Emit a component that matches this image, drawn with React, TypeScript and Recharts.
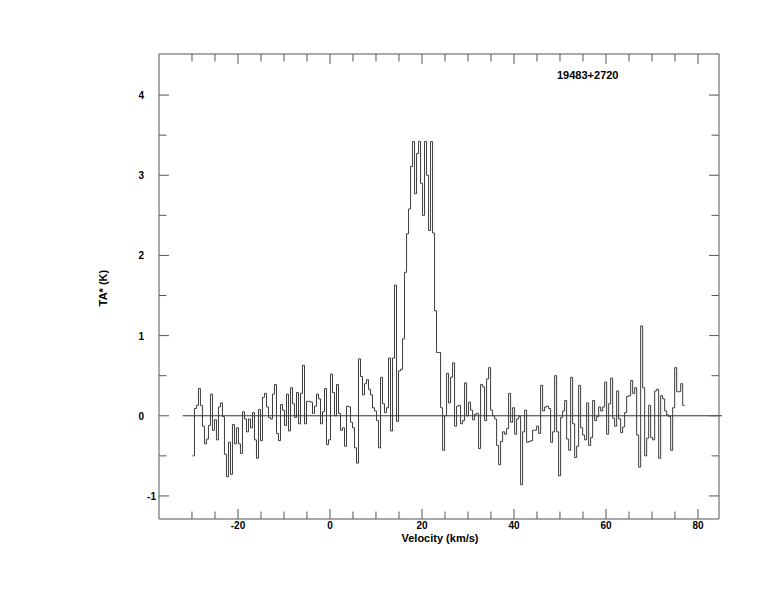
import { LineChart, Line, XAxis, YAxis, ReferenceLine } from "recharts";

// spectrum channels: first channel at V_START, constant channel width (km/s)
const V_START = -29.9;
const CHANNEL_KMS = 0.435;
const SOURCE = "19483+2720";

// antenna temperature TA* (K) per channel
const TA = [
  -0.5, 0.09, 0.13, 0.34, 0.13, -0.13, -0.35, -0.29, -0.12, 0.27,
  -0.18, -0.05, -0.3, 0.11, 0.16, -0.01, -0.48, -0.76, -0.33, -0.73,
  -0.11, -0.35, -0.15, -0.35, -0.47, 0.05, -0.04, -0.2, -0.04, -0.15,
  0.04, -0.3, -0.53, 0.08, -0.31, 0.23, 0.28, 0.11, -0.02, -0.04,
  0.27, 0.39, -0.22, -0.31, 0.14, 0.07, -0.12, 0.27, -0.19, 0.35,
  0.15, -0.02, 0.29, -0.1, 0.28, 0.63, -0.1, 0.18, 0.18, 0.17,
  0.03, 0.12, 0.27, 0.21, -0.1, 0.05, 0.34, -0.36, -0.3, 0.52,
  0.29, 0.0, 0.39, 0.03, -0.18, -0.15, -0.38, 0.12, 0.11, -0.08,
  -0.15, -0.4, -0.59, 0.71, 0.49, 0.26, 0.4, 0.45, 0.33, 0.26,
  0.1, 0.06, -0.06, -0.4, 0.48, 0.15, 0.04, 0.1, 0.72, -0.19,
  0.72, 1.63, -0.07, 0.56, 0.58, 0.96, 1.79, 2.27, 2.58, 3.11,
  3.42, 2.77, 3.27, 3.42, 2.9, 2.5, 3.42, 3.0, 2.31, 3.42,
  2.28, 1.31, 0.79, 0.79, 0.1, -0.43, 0.0, 0.53, 0.16, 0.48,
  0.66, -0.13, 0.12, 0.13, -0.1, -0.06, 0.41, 0.0, 0.17, 0.07,
  -0.05, 0.02, 0.03, -0.41, 0.39, 0.36, -0.06, 0.46, 0.6, 0.07,
  0.0, -0.04, -0.37, -0.61, -0.32, -0.2, -0.23, -0.16, 0.28, -0.08,
  0.1, -0.23, -0.04, -0.01, -0.86, -0.2, 0.07, -0.33, -0.32, -0.31,
  -0.18, -0.18, -0.13, -0.22, 0.38, 0.06, 0.11, 0.12, 0.09, -0.33,
  -0.2, 0.5, -0.2, -0.75, -0.02, 0.06, 0.19, -0.29, -0.43, 0.48,
  -0.1, -0.52, -0.38, 0.38, -0.15, -0.24, -0.3, 0.16, -0.37, -0.27,
  0.19, -0.06, -0.01, 0.11, 0.06, 0.11, 0.42, -0.23, 0.15, 0.47,
  -0.03, -0.13, 0.31, -0.04, -0.21, -0.14, 0.04, 0.24, 0.25, 0.44,
  0.28, 0.35, -0.24, -0.64, 1.12, 0.35, -0.5, -0.28, 0.13, -0.27,
  -0.3, 0.31, 0.33, -0.53, 0.25, 0.21, 0.06, 0.01, -0.01, -0.43,
  0.1, 0.6, 0.3, 0.3, 0.4, 0.13,
];

const X_TICKS = [-30, -25, -20, -15, -10, -5, 0, 5, 10, 15, 20, 25, 30, 35, 40, 45, 50, 55, 60, 65, 70, 75, 80];
const X_LABELS = [-20, 0, 20, 40, 60, 80];
const Y_TICKS = [-1, -0.5, 0, 0.5, 1, 1.5, 2, 2.5, 3, 3.5, 4];
const Y_LABELS = [-1, 0, 1, 2, 3, 4];

const X_DOMAIN = [-37.17, 84.57];
const Y_DOMAIN = [-1.2875, 4.5125];

const AXIS = "#555";
const INK = "#3c3c3c";
const FONT = "'Liberation Sans', Arial, sans-serif";

// stepAfter needs one extra point to close the last channel
const data = [
  ...TA.map((t, i) => ({ v: V_START + i * CHANNEL_KMS, t })),
  { v: V_START + TA.length * CHANNEL_KMS, t: TA[TA.length - 1] },
];

function XTick(props: any) {
  const { x, y, payload, side } = props;
  const v = payload.value;
  const major = X_LABELS.includes(v);
  const len = major ? 10 : 7.5;
  const dir = side === "bottom" ? -1 : 1;
  return (
    <g>
      <line x1={x} y1={y} x2={x} y2={y + dir * len} stroke={AXIS} />
      {side === "bottom" && major && (
        <text x={x} y={y + 10} textAnchor="middle" fontSize={10} fontWeight="bold" fontFamily={FONT} fill="#000">
          {v}
        </text>
      )}
    </g>
  );
}

function YTick(props: any) {
  const { x, y, payload, side } = props;
  const v = payload.value;
  const major = Y_LABELS.includes(v);
  const len = major ? 10 : 7.5;
  const dir = side === "left" ? 1 : -1;
  return (
    <g>
      <line x1={x} y1={y} x2={x + dir * len} y2={y} stroke={AXIS} />
      {side === "left" && major && (
        <text x={v < 0 ? x - 3 : x - 15} y={y + 4} textAnchor="end" fontSize={10} fontWeight="bold" fontFamily={FONT} fill="#000">
          {v}
        </text>
      )}
    </g>
  );
}

export default function App() {
  return (
    <div style={{ position: "absolute", left: 0, top: 0, width: 774, height: 612, background: "#fff", fontFamily: FONT }}>
      <LineChart width={774} height={612} data={data} margin={{ top: 53, right: 54, bottom: 63, left: 99 }}>
        <XAxis
          dataKey="v"
          type="number"
          domain={X_DOMAIN}
          allowDataOverflow
          ticks={X_TICKS}
          interval={0}
          height={30}
          tickSize={0}
          tickMargin={0}
          tickLine={false}
          axisLine={{ stroke: AXIS }}
          tick={(p: any) => <XTick {...p} side="bottom" />}
        />
        <XAxis
          xAxisId="top"
          orientation="top"
          dataKey="v"
          type="number"
          domain={X_DOMAIN}
          allowDataOverflow
          ticks={X_TICKS}
          interval={0}
          height={1}
          tickSize={0}
          tickMargin={0}
          tickLine={false}
          axisLine={{ stroke: AXIS }}
          tick={(p: any) => <XTick {...p} side="top" />}
        />
        <YAxis
          type="number"
          domain={Y_DOMAIN}
          allowDataOverflow
          ticks={Y_TICKS}
          interval={0}
          width={60}
          tickSize={0}
          tickMargin={0}
          tickLine={false}
          axisLine={{ stroke: AXIS }}
          tick={(p: any) => <YTick {...p} side="left" />}
        />
        <YAxis
          yAxisId="right"
          orientation="right"
          type="number"
          domain={Y_DOMAIN}
          allowDataOverflow
          ticks={Y_TICKS}
          interval={0}
          width={1}
          tickSize={0}
          tickMargin={0}
          tickLine={false}
          axisLine={{ stroke: AXIS }}
          tick={(p: any) => <YTick {...p} side="right" />}
        />
        <ReferenceLine
          segment={[{ x: -32, y: 0 }, { x: 85.2, y: 0 }]}
          stroke="#333"
          ifOverflow="visible"
        />
        <Line
          type="stepAfter"
          dataKey="t"
          stroke={INK}
          strokeWidth={1}
          dot={false}
          activeDot={false}
          isAnimationActive={false}
        />
      </LineChart>
      <div
        style={{
          position: "absolute",
          left: 557,
          top: 69,
          fontSize: 11,
          fontWeight: "bold",
          color: "#000",
          whiteSpace: "nowrap",
        }}
      >
        {SOURCE}
      </div>
      <div
        style={{
          position: "absolute",
          left: 103,
          top: 288,
          transform: "translate(-50%, -50%) rotate(-90deg)",
          fontSize: 11,
          fontWeight: "bold",
          color: "#000",
          whiteSpace: "nowrap",
        }}
      >
        TA* (K)
      </div>
      <div
        style={{
          position: "absolute",
          left: 440,
          top: 538,
          transform: "translate(-50%, -50%)",
          fontSize: 11,
          fontWeight: "bold",
          color: "#000",
          whiteSpace: "nowrap",
        }}
      >
        Velocity (km/s)
      </div>
    </div>
  );
}
